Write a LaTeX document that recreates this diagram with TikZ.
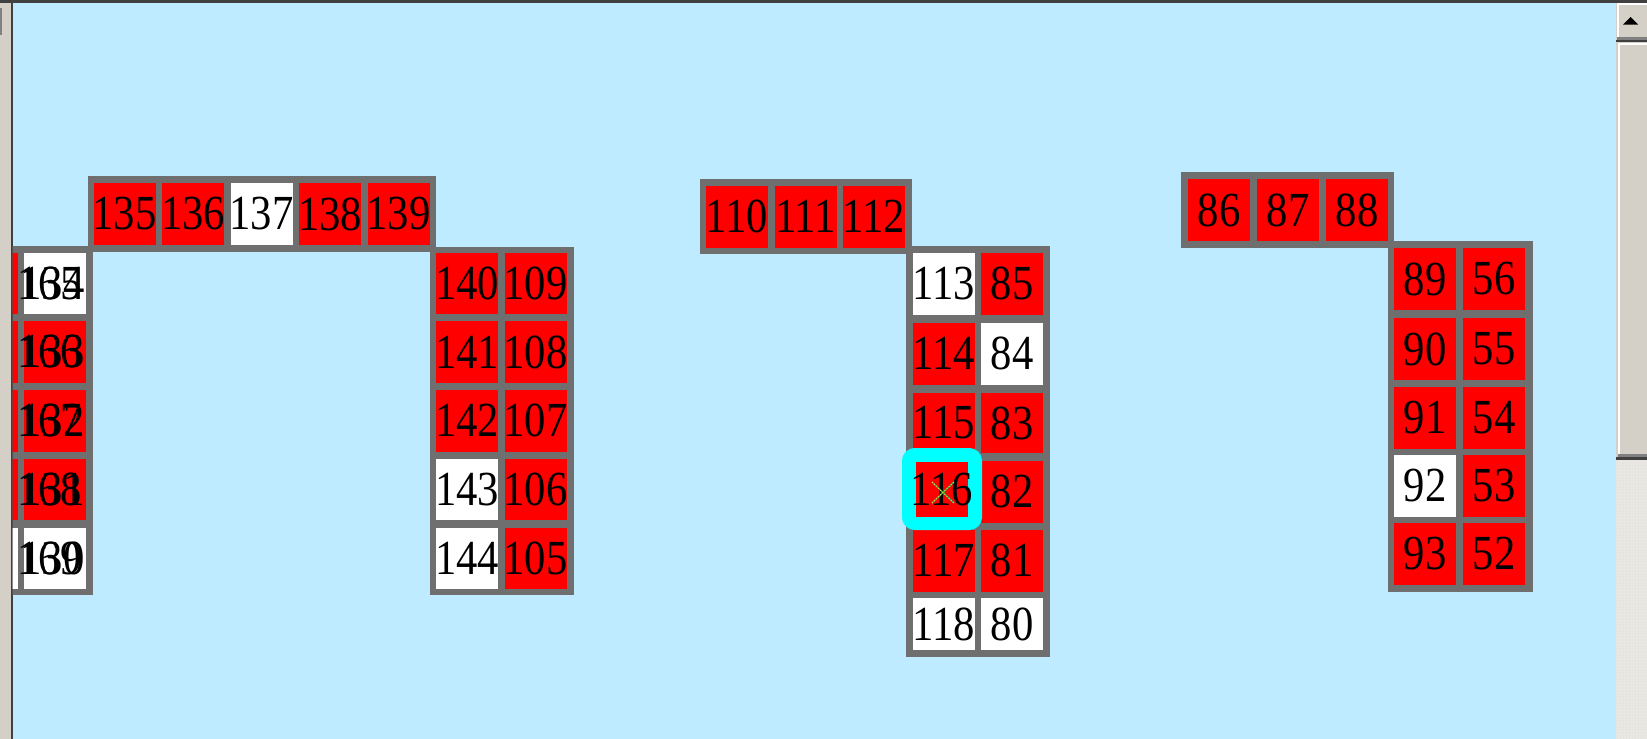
\documentclass[tikz,border=0pt]{standalone}
\usepackage{fontspec}
\newfontfamily\cellfont[FakeStretch=0.87]{Liberation Serif}
\usetikzlibrary{patterns}
\definecolor{bgblue}{RGB}{190,235,255}
\definecolor{bordergray}{RGB}{110,111,110}
\definecolor{cellred}{RGB}{255,0,0}
\definecolor{wingray}{RGB}{212,208,200}
\definecolor{trackgray}{RGB}{234,232,228}
\definecolor{darkedge}{RGB}{64,64,64}
\definecolor{midedge}{RGB}{128,128,128}
\definecolor{hlcyan}{RGB}{0,255,255}
\definecolor{crossgreen}{RGB}{50,170,80}
\definecolor{crossyellow}{RGB}{235,235,60}
\tikzset{
  cellbox/.style={rectangle, inner sep=0pt, outer sep=0pt, anchor=north west,
    minimum width=62pt, minimum height=62pt,
    font={\cellfont\fontsize{49pt}{49pt}\selectfont}, text=black},
  redcell/.style={cellbox, fill=cellred},
  whitecell/.style={cellbox, fill=white},
  lowrow/.style={minimum height=61.5pt},
  groupborder/.style={fill=bordergray},
}
\newcommand\lbl[1]{\makebox[0pt]{#1}}
\newcommand\twolbl[2]{\makebox[0pt]{\kern-5.5pt\makebox[0pt]{#1}\kern3pt\makebox[0pt]{#2}\kern2.5pt}}
\begin{document}
\begin{tikzpicture}[x=1pt,y=-1pt]
\useasboundingbox (0,0) rectangle (1647,739);
% window chrome
\fill[wingray] (0,0) rectangle (12.6,739);
\fill[midedge] (0,8) rectangle (2,35);
\fill[bgblue] (12.6,3) rectangle (1616,739);
\fill[darkedge] (10.5,0) rectangle (12.6,739);
\fill[darkedge] (0,0) rectangle (1647,3);

\begin{scope}
\clip (12.6,3) rectangle (1616,739);
% ---------- group C (left, partly hidden)
\fill[groupborder] (0,246) rectangle (93,594.5);
\node[redcell,lowrow]   (cL1) at (-44,252.5) {};
\node[redcell,lowrow]   (cL2) at (-44,321.25) {};
\node[redcell,lowrow]   (cL3) at (-44,390) {};
\node[redcell,lowrow]   (cL4) at (-44,458.75) {};
\node[whitecell,lowrow] (cL5) at (-44,527.5) {};
\node[whitecell,lowrow] (cM1) at (24,252.5) {\twolbl{165}{134}};
\node[redcell,lowrow]   (cM2) at (24,321.25) {\twolbl{166}{133}};
\node[redcell,lowrow]   (cM3) at (24,390) {\twolbl{167}{132}};
\node[redcell,lowrow]   (cM4) at (24,458.75) {\twolbl{168}{131}};
\node[whitecell,lowrow] (cM5) at (24,527.5) {\twolbl{169}{130}};

% ---------- group A + B
\fill[groupborder] (88,176) rectangle (436,252);
\fill[groupborder] (430,247) rectangle (573.5,594.5);
\node[redcell]   (c135) at (93.5,183) {\lbl{135}};
\node[redcell]   (c136) at (162,183) {\lbl{136}};
\node[whitecell] (c137) at (230.5,183) {\lbl{137}};
\node[redcell]   (c138) at (299,183) {\lbl{138}};
\node[redcell]   (c139) at (367.5,183) {\lbl{139}};
\node[redcell,lowrow]   (c140) at (436,252.5) {\lbl{140}};
\node[redcell,lowrow]   (c141) at (436,321.25) {\lbl{141}};
\node[redcell,lowrow]   (c142) at (436,390) {\lbl{142}};
\node[whitecell,lowrow] (c143) at (436,458.75) {\lbl{143}};
\node[whitecell,lowrow] (c144) at (436,527.5) {\lbl{144}};
\node[redcell,lowrow] (c109) at (504.5,252.5) {\lbl{109}};
\node[redcell,lowrow] (c108) at (504.5,321.25) {\lbl{108}};
\node[redcell,lowrow] (c107) at (504.5,390) {\lbl{107}};
\node[redcell,lowrow] (c106) at (504.5,458.75) {\lbl{106}};
\node[redcell,lowrow] (c105) at (504.5,527.5) {\lbl{105}};

% ---------- group E (middle)
\fill[groupborder] (699.5,179) rectangle (912,254);
\fill[groupborder] (906,246) rectangle (1050,657);
\node[redcell,lowrow] (c110) at (706,186) {\lbl{110}};
\node[redcell,lowrow] (c111) at (774.5,186) {\lbl{111}};
\node[redcell,lowrow] (c112) at (843,186) {\lbl{112}};
\node[whitecell,lowrow] (c113) at (912.5,253) {\lbl{113}};
\node[redcell,lowrow]   (c114) at (912.5,323) {\lbl{114}};
\node[redcell,lowrow,minimum height=60pt] (c115) at (912.5,393) {\lbl{115}};
\node[redcell,lowrow]   (c117) at (912.5,530) {\lbl{117}};
\node[whitecell,minimum height=52pt] (c118) at (912.5,598) {\lbl{118}};
\node[redcell,lowrow]   (c85) at (981,253) {\lbl{85}};
\node[whitecell,lowrow] (c84) at (981,323) {\lbl{84}};
\node[redcell,lowrow,minimum height=60pt] (c83) at (981,393) {\lbl{83}};
\node[redcell,lowrow]   (c82) at (981,461) {\lbl{82}};
\node[redcell,lowrow]   (c81) at (981,530) {\lbl{81}};
\node[whitecell,minimum height=52pt] (c80) at (981,598) {\lbl{80}};
% highlighted cell 116
\draw[hlcyan, line width=14pt, rounded corners=6pt] (909,455) rectangle (975,523);
\node[redcell, minimum width=52pt, minimum height=55pt] (c116) at (916,462) {\lbl{116}};
\draw[crossgreen, line width=1.4pt] (932,482) -- (954,503) (932,503) -- (954,482);
\draw[crossyellow, line width=0.9pt, dotted] (932,482) -- (954,503) (932,503) -- (954,482);

% ---------- group D (right)
\fill[groupborder] (1181,172) rectangle (1394,248);
\fill[groupborder] (1388,241) rectangle (1533,592);
\node[redcell] (c86) at (1188,179) {\lbl{86}};
\node[redcell] (c87) at (1257,179) {\lbl{87}};
\node[redcell] (c88) at (1326,179) {\lbl{88}};
\node[redcell]   (c89) at (1394,248) {\lbl{89}};
\node[redcell]   (c90) at (1394,318) {\lbl{90}};
\node[redcell]   (c91) at (1394,387) {\lbl{91}};
\node[whitecell] (c92) at (1394,455) {\lbl{92}};
\node[redcell]   (c93) at (1394,523) {\lbl{93}};
\node[redcell] (c56) at (1463,248) {\lbl{56}};
\node[redcell] (c55) at (1463,318) {\lbl{55}};
\node[redcell] (c54) at (1463,387) {\lbl{54}};
\node[redcell] (c53) at (1463,455) {\lbl{53}};
\node[redcell] (c52) at (1463,523) {\lbl{52}};
\end{scope}

% ---------- scrollbar
\fill[wingray] (1616,3) rectangle (1647,739);
\fill[white] (1617,3) rectangle (1647,5);
\fill[white] (1617,3) rectangle (1619,40);
\fill[midedge] (1617,37) rectangle (1647,40);
\fill[darkedge] (1616,40) rectangle (1647,42);
\fill[black] (1623,24.5) -- (1638,24.5) -- (1630.5,17) -- cycle;
\fill[white] (1618,43) rectangle (1620,455);
\fill[white] (1618,43) rectangle (1647,45);
\fill[midedge] (1618,454) rectangle (1647,457);
\fill[darkedge] (1616,457) rectangle (1647,460);
\fill[trackgray] (1616,460) rectangle (1647,739);
\fill[pattern=dots, pattern color=wingray] (1616,460) rectangle (1647,739);
\end{tikzpicture}
\end{document}
